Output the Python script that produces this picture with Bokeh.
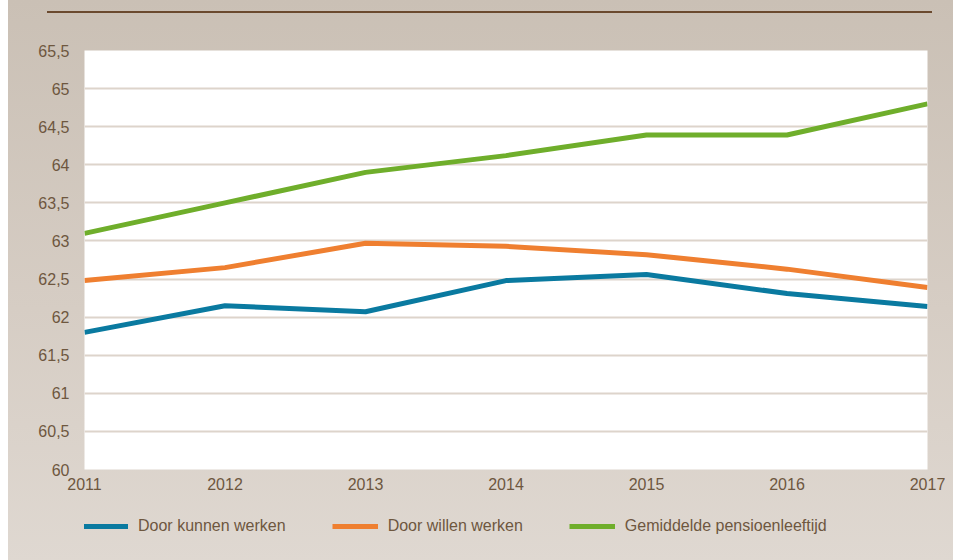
from bokeh.plotting import figure
from bokeh.models import Div, Legend, LegendItem, FixedTicker, Range1d
from bokeh.layouts import column
from bokeh.embed import file_html
from bokeh.resources import INLINE

years = [2011, 2012, 2013, 2014, 2015, 2016, 2017]
kunnen = [61.8, 62.15, 62.07, 62.48, 62.56, 62.31, 62.14]
willen = [62.48, 62.65, 62.97, 62.93, 62.82, 62.63, 62.39]
pensioen = [63.1, 63.5, 63.9, 64.12, 64.39, 64.39, 64.8]
series_names = ["Door kunnen werken", "Door willen werken", "Gemiddelde pensioenleeftijd"]
colors = ["#0a7aa0", "#ef7f30", "#6fae2b"]

y_ticks = [60, 60.5, 61, 61.5, 62, 62.5, 63, 63.5, 64, 64.5, 65, 65.5]
y_tick_labels = ["60", "60,5", "61", "61,5", "62", "62,5", "63", "63,5", "64", "64,5", "65", "65,5"]
x_tick_labels = [str(y) for y in years]

TEXT = "#6e573f"
FONT = "Liberation Sans"
series = [kunnen, willen, pensioen]

p = figure(width=937, height=484, output_backend="svg", toolbar_location=None,
           x_range=Range1d(2011, 2017), y_range=Range1d(60, 65.5),
           min_border_top=32, min_border_bottom=33, min_border_left=76, min_border_right=18)
p.background_fill_color = "white"
p.border_fill_color = None
p.outline_line_color = None

p.xgrid.grid_line_color = None
p.ygrid.grid_line_color = "#ddd4cb"
p.ygrid.grid_line_width = 2

p.yaxis.ticker = FixedTicker(ticks=y_ticks)
p.yaxis.major_label_overrides = {float(t): l for t, l in zip(y_ticks, y_tick_labels)}
p.xaxis.ticker = FixedTicker(ticks=years)
p.xaxis.major_label_overrides = {float(t): l for t, l in zip(years, x_tick_labels)}
for ax in (p.xaxis[0], p.yaxis[0]):
    ax.axis_line_color = None
    ax.major_tick_line_color = None
    ax.minor_tick_line_color = None
    ax.major_label_text_color = TEXT
    ax.major_label_text_font = FONT
    ax.major_label_text_font_size = "16px"
p.yaxis.major_label_standoff = 9
p.xaxis.major_label_standoff = 2

for vals, c in zip(series, colors):
    p.line(years, vals, line_color=c, line_width=5)

# legend strip: same series, drawn outside its view so only the legend shows
lg = figure(width=937, height=60, output_backend="svg", toolbar_location=None,
            x_range=Range1d(0, 1), y_range=Range1d(0, 1),
            x_axis_location=None, y_axis_location=None,
            min_border=0, min_border_left=0, min_border_right=0,
            min_border_top=0, min_border_bottom=0)
lg.grid.grid_line_color = None
lg.outline_line_color = None
lg.background_fill_color = None
lg.border_fill_color = None
items = []
for vals, name, c in zip(series, series_names, colors):
    r = lg.line(years, vals, line_color=c, line_width=5)
    items.append(LegendItem(label=name, renderers=[r]))
legend = Legend(items=items, orientation="horizontal", location=(-2, 26),
                glyph_width=46, glyph_height=20, label_height=20, label_standoff=10,
                spacing=46, padding=0, margin=0,
                label_text_font=FONT, label_text_font_size="16px", label_text_color=TEXT,
                background_fill_alpha=0, border_line_alpha=0)
lg.add_layout(legend, "center")

div = Div(width=937, height=8,
          text='<div style="position:relative;top:-4px;margin-left:34px;width:885px;height:2px;background:#6b4a2f;"></div>')

layout = column(div, p, lg, spacing=0,
                styles={"margin-left": "8px",
                        "background": "linear-gradient(to bottom, #cac0b5 0%, #d6cdc4 55%, #dfd8d1 100%)"})

open("out.html", "w").write(file_html(layout, INLINE))
